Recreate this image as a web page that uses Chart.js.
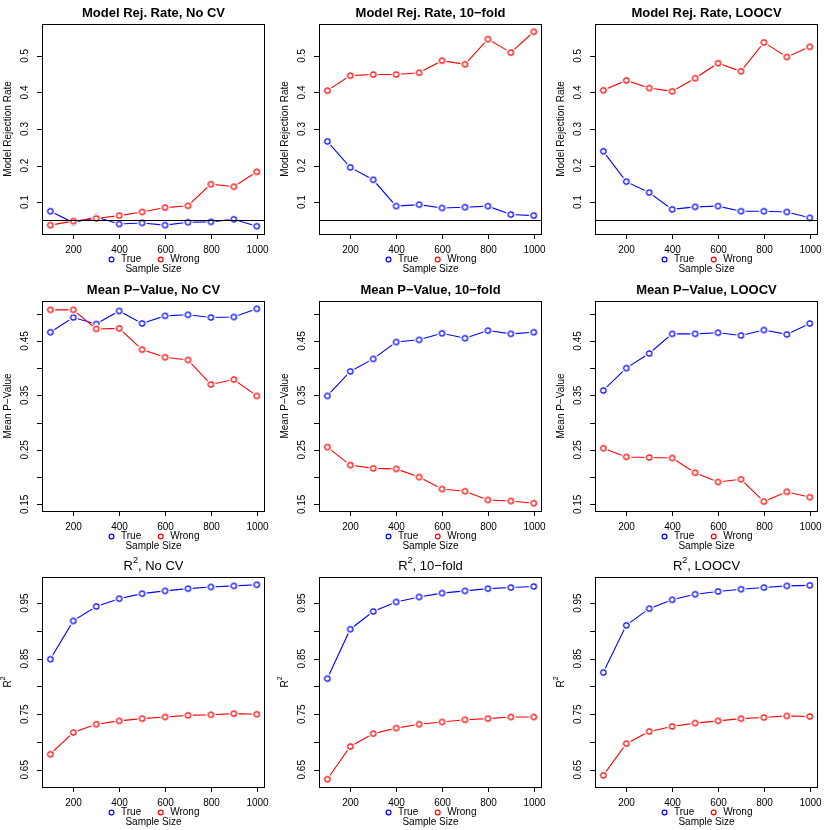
<!DOCTYPE html>
<html>
<head>
<meta charset="utf-8">
<script src="https://cdn.jsdelivr.net/npm/chart.js@4.4.1/dist/chart.umd.min.js"></script>
<style>
  body { margin: 0; background: #fff; }
  #grid { position: relative; width: 830px; height: 830px; }
  #grid canvas { position: absolute; }
</style>
</head>
<body>
<div id="grid"></div>
<script>
const sampleSize = [100, 200, 300, 400, 500, 600, 700, 800, 900, 1000];
const xTicks = [200, 400, 600, 800, 1000];

const rejNoCvTrue     = [0.075, 0.044, 0.059, 0.040, 0.043, 0.037, 0.045, 0.046, 0.053, 0.034];
const rejNoCvWrong    = [0.037, 0.048, 0.055, 0.063, 0.073, 0.085, 0.090, 0.149, 0.142, 0.183];
const rejTenFoldTrue  = [0.266, 0.195, 0.161, 0.089, 0.093, 0.084, 0.086, 0.089, 0.066, 0.063];
const rejTenFoldWrong = [0.405, 0.446, 0.449, 0.449, 0.454, 0.487, 0.477, 0.546, 0.509, 0.566];
const rejLoocvTrue    = [0.239, 0.156, 0.126, 0.080, 0.087, 0.089, 0.075, 0.075, 0.073, 0.057];
const rejLoocvWrong   = [0.406, 0.433, 0.412, 0.403, 0.439, 0.480, 0.458, 0.537, 0.497, 0.525];

const pvalNoCvTrue     = [0.466, 0.493, 0.481, 0.505, 0.482, 0.496, 0.498, 0.493, 0.494, 0.509];
const pvalNoCvWrong    = [0.507, 0.507, 0.472, 0.473, 0.434, 0.420, 0.415, 0.370, 0.379, 0.349];
const pvalTenFoldTrue  = [0.349, 0.394, 0.417, 0.448, 0.452, 0.464, 0.455, 0.469, 0.463, 0.466];
const pvalTenFoldWrong = [0.255, 0.222, 0.216, 0.215, 0.200, 0.178, 0.174, 0.158, 0.156, 0.152];
const pvalLoocvTrue    = [0.359, 0.400, 0.427, 0.463, 0.463, 0.465, 0.460, 0.470, 0.462, 0.482];
const pvalLoocvWrong   = [0.253, 0.237, 0.236, 0.235, 0.208, 0.191, 0.196, 0.155, 0.173, 0.163];

const r2NoCvTrue     = [0.849, 0.918, 0.944, 0.958, 0.967, 0.972, 0.976, 0.979, 0.981, 0.983];
const r2NoCvWrong    = [0.678, 0.717, 0.732, 0.738, 0.742, 0.745, 0.748, 0.749, 0.751, 0.750];
const r2TenFoldTrue  = [0.814, 0.903, 0.935, 0.952, 0.961, 0.968, 0.972, 0.976, 0.978, 0.980];
const r2TenFoldWrong = [0.633, 0.692, 0.715, 0.725, 0.732, 0.736, 0.740, 0.742, 0.745, 0.745];
const r2LoocvTrue    = [0.825, 0.910, 0.940, 0.956, 0.966, 0.971, 0.975, 0.978, 0.981, 0.982];
const r2LoocvWrong   = [0.640, 0.697, 0.719, 0.728, 0.734, 0.738, 0.742, 0.744, 0.747, 0.746];

const rejTicks   = [0.1, 0.2, 0.3, 0.4, 0.5];
const rejLabels  = [0.1, 0.2, 0.3, 0.4, 0.5];
const pvalTicks  = [0.15, 0.2, 0.25, 0.3, 0.35, 0.4, 0.45, 0.5];
const pvalLabels = [0.15, 0.25, 0.35, 0.45];
const r2Ticks    = [0.65, 0.7, 0.75, 0.8, 0.85, 0.9, 0.95];
const r2Labels   = [0.65, 0.75, 0.85, 0.95];
const rejThreshold = 0.05;

const FONT = '"Liberation Sans", Arial, Helvetica, sans-serif';
const BLUE = '#0000ff', RED = '#ff0000';

// R's default axis range: data range stretched by 4% on each side
function rRange(arrs){
  const all = [].concat(...arrs);
  const lo = Math.min(...all), hi = Math.max(...all), d = (hi - lo) * 0.04;
  return [lo - d, hi + d];
}

// open circle with a white halo, mimics the line gaps of type="b"
function ringImage(color){
  const c = document.createElement('canvas');
  c.width = 13; c.height = 13;
  const g = c.getContext('2d');
  g.fillStyle = '#fff';
  g.beginPath(); g.arc(6.5, 6.5, 4.8, 0, Math.PI * 2); g.fill();
  g.strokeStyle = color; g.lineWidth = 1.2;
  g.beginPath(); g.arc(6.5, 6.5, 2.7, 0, Math.PI * 2); g.stroke();
  return c;
}

// text with "^2" style superscripts, centred on x
function drawRich(ctx, str, x, y, size, weight){
  const parts = str.split(/\^(\w)/).map((t, i) => ({ t, sup: i % 2 === 1 }));
  const fontOf = p => `${weight} ${p.sup ? size * 0.7 : size}px ${FONT}`;
  let w = 0;
  parts.forEach(p => { ctx.font = fontOf(p); p.w = ctx.measureText(p.t).width; w += p.w; });
  let cx = x - w / 2;
  ctx.textAlign = 'left';
  ctx.textBaseline = 'middle';
  parts.forEach(p => {
    ctx.font = fontOf(p);
    ctx.fillText(p.t, cx, p.sup ? y - size * 0.45 : y);
    cx += p.w;
  });
}

const rAxes = {
  id: 'rAxes',
  afterDatasetsDraw(chart, args, opts){
    const { ctx, chartArea: a, scales: { x, y } } = chart;
    ctx.save();
    ctx.strokeStyle = '#000';
    ctx.fillStyle = '#000';
    ctx.lineWidth = 1;

    if (opts.refLine != null) {
      const py = Math.round(y.getPixelForValue(opts.refLine)) + 0.5;
      ctx.beginPath(); ctx.moveTo(a.left, py); ctx.lineTo(a.right, py); ctx.stroke();
    }

    ctx.strokeRect(a.left + 0.5, a.top + 0.5, a.right - a.left - 1, a.bottom - a.top);

    // x axis
    ctx.font = `10px ${FONT}`;
    ctx.textAlign = 'center';
    ctx.textBaseline = 'middle';
    xTicks.forEach(v => {
      const px = Math.round(x.getPixelForValue(v)) + 0.5;
      ctx.beginPath(); ctx.moveTo(px, a.bottom); ctx.lineTo(px, a.bottom + 5); ctx.stroke();
      ctx.fillText(String(v), px, a.bottom + 16);
    });

    // y axis, labels turned like las=0
    opts.yTicks.forEach(v => {
      const py = Math.round(y.getPixelForValue(v)) + 0.5;
      ctx.beginPath(); ctx.moveTo(a.left - 5, py); ctx.lineTo(a.left, py); ctx.stroke();
    });
    opts.yLabels.forEach(v => {
      const py = y.getPixelForValue(v);
      ctx.save();
      ctx.translate(a.left - 16.5, py);
      ctx.rotate(-Math.PI / 2);
      ctx.fillText(String(v), 0, 0);
      ctx.restore();
    });

    const cx = (a.left + a.right) / 2;
    ctx.save();
    ctx.translate(8, (a.top + a.bottom) / 2);
    ctx.rotate(-Math.PI / 2);
    drawRich(ctx, opts.yTitle, 0, 0, 10, 'normal');
    ctx.restore();

    drawRich(ctx, 'Sample Size', cx, a.bottom + 35, 10, 'normal');
    drawRich(ctx, opts.title, cx, 13, 13, opts.title.includes('^') ? 'normal' : 'bold');

    // horizontal legend between tick labels and the x title
    const items = chart.data.datasets.map(d => ({ label: d.label, color: d.borderColor }));
    ctx.font = `10px ${FONT}`;
    const symW = 9.5, gap = 19.5;
    items.forEach(it => { it.w = symW + ctx.measureText(it.label).width; });
    const total = items.reduce((s, it) => s + it.w, 0) + gap * (items.length - 1);
    let lx = cx - total / 2 + 2;
    const ly = a.bottom + 25.5;
    ctx.textAlign = 'left';
    ctx.lineWidth = 1.2;
    items.forEach(it => {
      ctx.strokeStyle = it.color;
      ctx.beginPath(); ctx.arc(lx, ly, 2.4, 0, Math.PI * 2); ctx.stroke();
      ctx.fillStyle = '#000';
      ctx.fillText(it.label, lx + symW, ly);
      lx += it.w + gap;
    });
    ctx.restore();
  }
};

const rejRange = rRange([rejNoCvTrue, rejNoCvWrong, rejTenFoldTrue, rejTenFoldWrong, rejLoocvTrue, rejLoocvWrong]);
const pvalRange = rRange([pvalNoCvTrue, pvalNoCvWrong, pvalTenFoldTrue, pvalTenFoldWrong, pvalLoocvTrue, pvalLoocvWrong]);
const r2Range = rRange([r2NoCvTrue, r2NoCvWrong, r2TenFoldTrue, r2TenFoldWrong, r2LoocvTrue, r2LoocvWrong]);
const xRange = rRange([sampleSize]);

const panels = [
  { title: 'Model Rej. Rate, No CV',   yTitle: 'Model Rejection Rate', t: rejNoCvTrue,     w: rejNoCvWrong,     range: rejRange,  ticks: rejTicks,  labels: rejLabels,  ref: rejThreshold },
  { title: 'Model Rej. Rate, 10\u2212fold', yTitle: 'Model Rejection Rate', t: rejTenFoldTrue, w: rejTenFoldWrong, range: rejRange, ticks: rejTicks, labels: rejLabels, ref: rejThreshold },
  { title: 'Model Rej. Rate, LOOCV',   yTitle: 'Model Rejection Rate', t: rejLoocvTrue,    w: rejLoocvWrong,    range: rejRange,  ticks: rejTicks,  labels: rejLabels,  ref: rejThreshold },
  { title: 'Mean P\u2212Value, No CV', yTitle: 'Mean P\u2212Value',    t: pvalNoCvTrue,    w: pvalNoCvWrong,    range: pvalRange, ticks: pvalTicks, labels: pvalLabels, ref: null },
  { title: 'Mean P\u2212Value, 10\u2212fold', yTitle: 'Mean P\u2212Value', t: pvalTenFoldTrue, w: pvalTenFoldWrong, range: pvalRange, ticks: pvalTicks, labels: pvalLabels, ref: null },
  { title: 'Mean P\u2212Value, LOOCV', yTitle: 'Mean P\u2212Value',    t: pvalLoocvTrue,   w: pvalLoocvWrong,   range: pvalRange, ticks: pvalTicks, labels: pvalLabels, ref: null },
  { title: 'R^2, No CV',               yTitle: 'R^2',                  t: r2NoCvTrue,      w: r2NoCvWrong,      range: r2Range,   ticks: r2Ticks,   labels: r2Labels,   ref: null },
  { title: 'R^2, 10\u2212fold',        yTitle: 'R^2',                  t: r2TenFoldTrue,   w: r2TenFoldWrong,   range: r2Range,   ticks: r2Ticks,   labels: r2Labels,   ref: null },
  { title: 'R^2, LOOCV',               yTitle: 'R^2',                  t: r2LoocvTrue,     w: r2LoocvWrong,     range: r2Range,   ticks: r2Ticks,   labels: r2Labels,   ref: null },
];

const cellX = [0, 277, 553], cellY = [0, 277, 553], cellSize = 277;
const blueRing = ringImage(BLUE), redRing = ringImage(RED);

panels.forEach((p, i) => {
  const canvas = document.createElement('canvas');
  canvas.width = cellSize; canvas.height = cellSize;
  canvas.style.left = cellX[i % 3] + 'px';
  canvas.style.top = cellY[Math.floor(i / 3)] + 'px';
  canvas.style.width = cellSize + 'px';
  canvas.style.height = cellSize + 'px';
  document.getElementById('grid').appendChild(canvas);

  const series = (label, data, color, ring, order) => ({
    label, data: sampleSize.map((s, k) => ({ x: s, y: data[k] })),
    borderColor: color, borderWidth: 1.1, tension: 0, fill: false,
    pointStyle: ring, pointRadius: 3, order
  });

  new Chart(canvas.getContext('2d'), {
    type: 'line',
    data: { datasets: [series('True', p.t, BLUE, blueRing, 1), series('Wrong', p.w, RED, redRing, 0)] },
    options: {
      responsive: false,
      animation: false,
      events: [],
      layout: { padding: { left: 42, top: 24, right: 12, bottom: 43 } },
      scales: {
        x: { type: 'linear', min: xRange[0], max: xRange[1], display: false },
        y: { type: 'linear', min: p.range[0], max: p.range[1], display: false }
      },
      plugins: {
        legend: { display: false },
        tooltip: { enabled: false },
        rAxes: { title: p.title, yTitle: p.yTitle, yTicks: p.ticks, yLabels: p.labels, refLine: p.ref }
      }
    },
    plugins: [rAxes]
  });
});
</script>
</body>
</html>
